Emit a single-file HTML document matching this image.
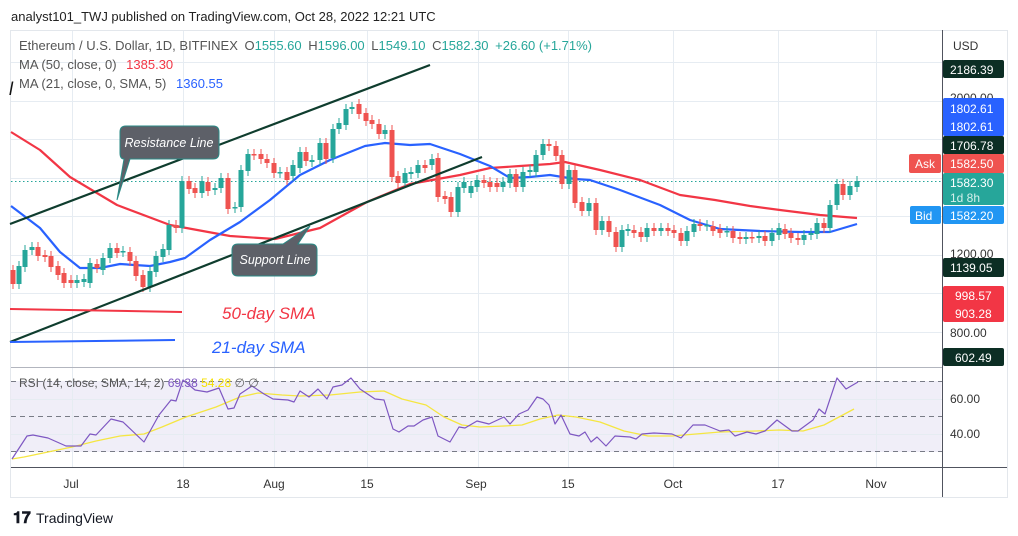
<!DOCTYPE html>
<html><head><meta charset="utf-8"><style>
html,body{margin:0;padding:0;background:#fff;width:1018px;height:536px;overflow:hidden;font-family:"Liberation Sans","DejaVu Sans",sans-serif}
</style></head><body>
<svg id="s" width="1018" height="536" xmlns="http://www.w3.org/2000/svg" style="position:absolute;left:0;top:0">
<rect x="0" y="0" width="1018" height="536" fill="#fff"/>
<text x="11" y="21" font-size="13" fill="#222">analyst101_TWJ published on TradingView.com, Oct 28, 2022 12:21 UTC</text>
<rect x="10.5" y="30.5" width="997" height="467" fill="#fff" stroke="#e3e7ec"/>
<rect x="10.5" y="381" width="931" height="71" fill="#f0eef8"/>
<g id="grid" stroke="#e6ecf2" stroke-width="1"></g>
<g stroke="#787b86" stroke-dasharray="5,4" stroke-width="1">
<line x1="11" y1="381.5" x2="942" y2="381.5"/><line x1="11" y1="416.5" x2="942" y2="416.5"/><line x1="11" y1="451.5" x2="942" y2="451.5"/></g>
<line x1="11" y1="367.5" x2="942" y2="367.5" stroke="#b2b5be"/>
<line x1="11" y1="467.5" x2="1007" y2="467.5" stroke="#50535e"/>
<line x1="942.5" y1="30" x2="942.5" y2="497" stroke="#50535e"/>
<line x1="11" y1="181.5" x2="942" y2="181.5" stroke="#26a69a" stroke-dasharray="1.5,2.5"/>
<g id="ma"></g>
<g id="candles"></g>
<line x1="10" y1="224" x2="430" y2="65" stroke="#0f3d2e" stroke-width="2.2"/>
<line x1="10" y1="342" x2="482" y2="157" stroke="#0f3d2e" stroke-width="2.2"/>
<line x1="10" y1="309" x2="182" y2="312" stroke="#f23645" stroke-width="2"/>
<line x1="10" y1="342" x2="175" y2="340" stroke="#2962ff" stroke-width="2"/>
<text x="222" y="319" font-size="17" font-style="italic" fill="#f23645">50-day SMA</text>
<text x="212" y="353" font-size="17" font-style="italic" fill="#2962ff">21-day SMA</text>
<path d="M126,126 H213 Q219,126 219,132 V153 Q219,159 213,159 H130 L117,200 L124,159 Q120,159 120,153 V132 Q120,126 126,126Z" fill="#5d6068" stroke="#2a8a86" stroke-width="1"/>
<text x="169" y="147" font-size="12.5" font-style="italic" fill="#fff" text-anchor="middle">Resistance Line</text>
<path d="M238,244 H283 L310,226 L298,244 H311 Q317,244 317,250 V270 Q317,276 311,276 H238 Q232,276 232,270 V250 Q232,244 238,244Z" fill="#5d6068" stroke="#2a8a86" stroke-width="1"/>
<text x="275" y="264" font-size="12.5" font-style="italic" fill="#fff" text-anchor="middle">Support Line</text>
<g id="rsi"></g>
<text x="19" y="50" font-size="13" fill="#555">Ethereum / U.S. Dollar, 1D, BITFINEX <tspan dx="3" fill="#555">O</tspan><tspan fill="#26a69a">1555.60</tspan> <tspan dx="3" fill="#555">H</tspan><tspan fill="#26a69a">1596.00</tspan> <tspan dx="3" fill="#555">L</tspan><tspan fill="#26a69a">1549.10</tspan> <tspan dx="3" fill="#555">C</tspan><tspan fill="#26a69a">1582.30</tspan> <tspan dx="3" fill="#26a69a">+26.60 (+1.71%)</tspan></text>
<text x="19" y="69" font-size="13" fill="#555">MA (50, close, 0) <tspan dx="6" fill="#f23645">1385.30</tspan></text>
<text x="19" y="88" font-size="13" fill="#555">MA (21, close, 0, SMA, 5) <tspan dx="6" fill="#2962ff">1360.55</tspan></text>
<text x="9" y="95" font-size="18" font-style="italic" fill="#111">l</text>
<text x="19" y="387" font-size="12" fill="#555">RSI (14, close, SMA, 14, 2) <tspan fill="#7e57c2">69.38</tspan> <tspan fill="#f5e000">54.28</tspan> <tspan fill="#666">∅ ∅</tspan></text>
<g font-size="12" fill="#333" text-anchor="middle">
<text x="71" y="488">Jul</text><text x="183" y="488">18</text><text x="274" y="488">Aug</text><text x="367" y="488">15</text><text x="476" y="488">Sep</text><text x="568" y="488">15</text><text x="673" y="488">Oct</text><text x="778" y="488">17</text><text x="876" y="488">Nov</text></g>
<g font-size="12" fill="#333">
<text x="953" y="50">USD</text>
<text x="950" y="102" fill="#333">2000.00</text>
<text x="950" y="258">1200.00</text>
<text x="950" y="337">800.00</text>
<text x="950" y="403">60.00</text>
<text x="950" y="438">40.00</text></g>
<g font-size="12" fill="#fff">
<rect x="943" y="60" width="61" height="18" rx="2" fill="#0c2e24"/><text x="950" y="74">2186.39</text>
<rect x="943" y="98" width="61" height="38" rx="2" fill="#2962ff"/><text x="950" y="113">1802.61</text><text x="950" y="131">1802.61</text>
<rect x="943" y="136" width="61" height="18" rx="2" fill="#0c2e24"/><text x="950" y="150">1706.78</text>
<rect x="943" y="154" width="61" height="19" rx="2" fill="#ef5350"/><text x="950" y="168">1582.50</text>
<rect x="909" y="154" width="32" height="19" rx="2" fill="#ef5350"/><text x="915" y="168">Ask</text>
<rect x="943" y="173" width="61" height="32" rx="2" fill="#26a69a"/><text x="950" y="187">1582.30</text><text x="950" y="202" fill="#d6f0ec">1d 8h</text>
<rect x="943" y="206" width="61" height="18" rx="2" fill="#2196f3"/><text x="950" y="220">1582.20</text>
<rect x="910" y="206" width="31" height="18" rx="2" fill="#2196f3"/><text x="915" y="220">Bid</text>
<rect x="943" y="258" width="61" height="19" rx="2" fill="#0c2e24"/><text x="950" y="272">1139.05</text>
<rect x="943" y="286" width="61" height="36" rx="2" fill="#f23645"/><text x="955" y="300">998.57</text><text x="955" y="318">903.28</text>
<rect x="943" y="348" width="61" height="18" rx="2" fill="#0c2e24"/><text x="955" y="362">602.49</text></g>
<text x="13" y="523" font-size="16" font-weight="bold" fill="#131722">𝟏𝟕</text>
<text x="36" y="523" font-size="14" fill="#131722">TradingView</text>
</svg>
<script>
var NS="http://www.w3.org/2000/svg";
function el(p,t,a){var e=document.createElementNS(NS,t);for(var k in a)e.setAttribute(k,a[k]);document.getElementById(p).appendChild(e);return e;}
[62,101,139,178,216,255,293,332,399,434].forEach(function(y){el("grid","line",{x1:11,x2:942,y1:y+.5,y2:y+.5});});
[72,183,274,367,478,568,673,778,876].forEach(function(x){el("grid","line",{x1:x+.5,x2:x+.5,y1:31,y2:467});});
function pl(g,pts,c,w){el(g,"polyline",{points:pts,fill:"none",stroke:c,"stroke-width":w,"stroke-linejoin":"round"});}
pl("ma","11,132 40,150 70,177 117,205 170,225 230,236 275,239 320,228 367,202 410,184 460,175 490,168 520,166 550,164 565,162 600,170 640,180 680,195 715,200 750,206 780,210 820,215 857,218","#f23645",2.2);
pl("ma","11,206 40,228 60,252 80,268 100,268 120,264 150,266 170,262 185,258 210,240 240,222 270,200 300,175 330,160 365,146 385,143 410,145 430,144 460,154 490,166 510,178 530,177 550,175 575,179 590,180 620,190 660,205 690,220 720,229 760,231 800,232 830,232 857,224","#2962ff",2.2);
var C=[[13,270,284],[19,284,266],[25,267,250],[32,250,247],[38,247,256],[45,255,257],[51,256,267],[58,266,275],[64,273,283],[71,280,283],[77,283,280],[84,282,279],[90,283,263],[97,264,268],[103,270,258],[110,258,248],[117,248,253],[123,252,251],[130,252,261],[136,261,276],[143,275,287],[150,287,271],[156,272,256],[163,257,249],[169,250,225],[176,225,228],[182,228,181],[189,181,189],[195,188,193],[202,193,181],[208,182,191],[215,190,188],[221,188,178],[228,178,209],[235,208,207],[241,207,170],[248,171,154],[254,154,155],[261,154,159],[267,159,163],[274,163,173],[280,173,172],[287,172,180],[293,176,165],[300,168,152],[306,152,161],[312,162,160],[320,160,143],[326,143,159],[333,158,129],[339,129,123],[346,125,109],[352,109,107],[359,104,114],[366,113,121],[372,120,124],[379,124,134],[385,134,130],[392,130,177],[398,176,183],[405,183,173],[411,174,172],[418,173,165],[425,165,168],[432,165,159],[438,158,197],[445,196,199],[451,197,212],[458,212,187],[464,188,182],[471,193,186],[477,187,180],[484,180,183],[490,182,187],[497,183,187],[503,187,182],[510,183,174],[516,174,187],[523,187,172],[530,172,170],[536,172,155],[543,155,144],[549,144,146],[556,146,156],[562,155,184],[569,184,170],[575,170,203],[582,202,211],[589,211,203],[596,203,230],[602,230,221],[609,221,232],[616,232,247],[622,247,230],[628,231,229],[634,230,233],[641,232,237],[647,237,228],[654,228,231],[661,231,228],[668,228,231],[674,230,233],[681,233,241],[687,241,231],[694,232,224],[700,224,226],[707,226,225],[713,226,231],[720,229,233],[727,232,231],[733,231,238],[740,237,239],[746,239,237],[752,237,238],[759,238,236],[765,236,241],[772,241,233],[779,235,228],[785,229,234],[791,233,238],[798,238,240],[804,240,235],[811,235,233],[817,234,223],[824,223,228],[830,228,205],[837,205,184],[843,184,195],[850,195,186],[857,187,181]];
C.forEach(function(c){var x=c[0],o=c[1],cl=c[2],up=cl<o,col=up?"#26a69a":"#ef5350";var t=Math.min(o,cl),b=Math.max(o,cl);
el("candles","line",{x1:x,x2:x,y1:t-5,y2:b+5,stroke:col,"stroke-width":1});
el("candles","rect",{x:x-2.5,y:t,width:5,height:Math.max(b-t,1.5),fill:col});});
pl("rsi","12,459 24,457 48,452 72,447 96,441 120,436 144,434 162,427 186,417 216,407 240,397 258,393 282,395 300,396 330,395 360,392 384,391 402,399 426,405 444,417 462,425 480,427 504,426 522,425 540,419 558,415 576,417 600,422 624,431 648,436 672,436 696,434 720,432 756,431 779,430 803,431 824,425 839,417 854,409","#f5e642",1.3);
pl("rsi","12,459 27,436 33,435 48,438 66,446 81,446 90,434 96,435 111,419 123,422 144,442 159,415 171,400 176,401 183,380 195,390 207,392 219,388 228,409 234,408 240,394 252,386 264,394 273,399 288,400 294,402 300,391 309,397 318,389 327,399 333,387 342,385 351,378 360,389 375,399 384,400 393,429 399,432 408,426 414,426 423,420 432,417 438,436 450,442 459,427 465,428 477,421 489,424 504,417 510,424 519,414 528,410 537,397 543,399 549,405 555,424 561,415 570,434 579,436 585,432 591,442 597,437 606,446 615,436 630,437 636,439 642,434 654,433 672,434 681,438 693,425 705,425 720,431 729,430 735,436 747,432 756,434 765,431 777,420 792,431 798,431 813,420 819,409 825,414 837,378 846,389 858,382","#7e57c2",1.2);
</script>
</body></html>
